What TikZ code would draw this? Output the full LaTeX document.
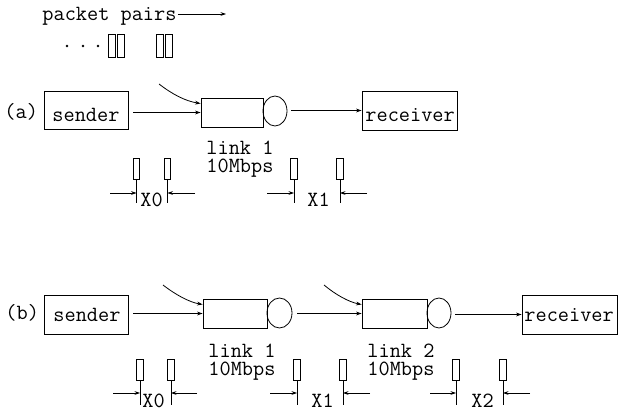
\documentclass[tikz,border=0pt]{standalone}
\usepackage{fontspec}
\usetikzlibrary{arrows.meta,shapes.geometric}

\tikzset{
  tip/.style={-{Stealth[length=5.5pt,width=3.8pt]}},
  block/.style={draw, inner sep=0pt},
  server/.style={draw, ellipse, inner sep=0pt, minimum width=24pt, minimum height=30pt},
  pkt/.style={draw, inner sep=0pt, minimum width=6.5pt, minimum height=21pt},
  pktup/.style={draw, inner sep=0pt, minimum width=7pt, minimum height=23pt},
  txt/.style={inner sep=0pt, anchor=base west, font={\ttfamily\fontsize{21.7}{18}\selectfont}},
  linktxt/.style={txt, align=left},
  dot/.style={fill, circle, inner sep=0pt, minimum size=2.6pt},
}

\begin{document}
\begin{tikzpicture}[x=1pt, y=-1pt, line width=0.8pt]
\useasboundingbox (0,0) rectangle (618,414);

% ---- packet pairs legend ----
\node[txt] (pp) at (42,20.5) {packet pairs};
\coordinate (ppend) at (226,14);
\draw[tip] (pp.east |- ppend) ++(1,0) -- (ppend);
\node[dot] (d1) at (67,46) {};
\node[dot] (d2) at (83,46) {};
\node[dot] (d3) at (98,46) {};
\node[pktup] (u1) at (111.5,45.5) {};
\node[pktup] (u2) at (121,45.5) {};
\node[pktup] (u3) at (159.5,45.5) {};
\node[pktup] (u4) at (168.5,45.5) {};

% ---- (a) one link ----
\node[txt] (la) at (4,119) {(a)};
\node[block, minimum width=84pt, minimum height=38pt] (snda) at (86,110) {};
\node[txt] (snda-t) at (52,122) {sender};
\node[block, minimum width=62pt, minimum height=29pt] (qa) at (232,112.5) {};
\node[server] (sa) at (275,111) {};
\node[block, minimum width=95pt, minimum height=39pt] (rcva) at (409.5,110.5) {};
\node[txt] (rcva-t) at (365,122) {receiver};
\draw[tip] (snda.east |- qa.west) ++(5,0) -- (qa.west);
\draw[tip] (sa.east |- rcva.west) ++(4,0) -- (rcva.west);
\coordinate (ina) at (159,84);
\draw[tip] (ina) .. controls (172,94) and (185,101) .. ([yshift=9pt]qa.west);
\node[linktxt] (l1a) at (206,173) {link 1\\10Mbps};

% packet spacing marks, row (a)
\foreach \n/\x in {pa0/136.5, pa1/167.5, pa2/294, pa3/340}{
  \node[pkt] (\n) at (\x,168.5) {};
  \coordinate (\n-end) at (\x,203);
  \draw (\n.south) -- (\n-end);
}
\foreach \s/\t/\x in {ca0/pa0/110, ca1/pa1/195, ca2/pa2/267, ca3/pa3/367}{
  \coordinate (\s) at (\x,193);
  \draw[tip] (\s) -- (\t.south |- \s);
}
\node[txt] (xa0) at (140,207) {X0};
\node[txt] (xa1) at (307,207) {X1};

% ---- (b) two links ----
\node[txt] (lb) at (5,319) {(b)};
\node[block, minimum width=84pt, minimum height=39pt] (sndb) at (86,314.5) {};
\node[txt] (sndb-t) at (53,321) {sender};
\node[block, minimum width=64pt, minimum height=29pt] (qb1) at (235,313.5) {};
\node[server, minimum width=25pt] (sb1) at (279.5,313) {};
\node[block, minimum width=65pt, minimum height=29pt] (qb2) at (394.5,313.5) {};
\node[server] (sb2) at (439,313) {};
\node[block, minimum width=95pt, minimum height=39pt] (rcvb) at (569.5,314.5) {};
\node[txt] (rcvb-t) at (524,321) {receiver};
\draw[tip] (sndb.east |- qb1.west) ++(5,0) -- (qb1.west);
\draw[tip] (sb1.east |- qb2.west) ++(5,0) -- (qb2.west);
\draw[tip] (sb2.east |- rcvb.west) ++(4,0) -- (rcvb.west);
\coordinate (inb1) at (163,285);
\coordinate (inb2) at (324,285);
\draw[tip] (inb1) .. controls (176,295) and (189,302) .. ([yshift=9pt]qb1.west);
\draw[tip] (inb2) .. controls (336,295) and (349,302) .. ([yshift=9pt]qb2.west);
\node[linktxt] (l1b) at (208,375) {link 1\\10Mbps};
\node[linktxt] (l2b) at (367,375) {link 2\\10Mbps};

% packet spacing marks, row (b)
\foreach \n/\x in {pb0/140, pb1/171, pb2/297, pb3/343, pb4/456, pb5/503}{
  \node[pkt] (\n) at (\x,370) {};
  \coordinate (\n-end) at (\x,405);
  \draw (\n.south) -- (\n-end);
}
\foreach \s/\t/\x in {cb0/pb0/113, cb1/pb1/197, cb2/pb2/270, cb3/pb3/370, cb4/pb4/430, cb5/pb5/530}{
  \coordinate (\s) at (\x,393);
  \draw[tip] (\s) -- (\t.south |- \s);
}
\node[txt] (xb0) at (142,407) {X0};
\node[txt] (xb1) at (311,407) {X1};
\node[txt] (xb2) at (471,407) {X2};
\end{tikzpicture}
\end{document}
